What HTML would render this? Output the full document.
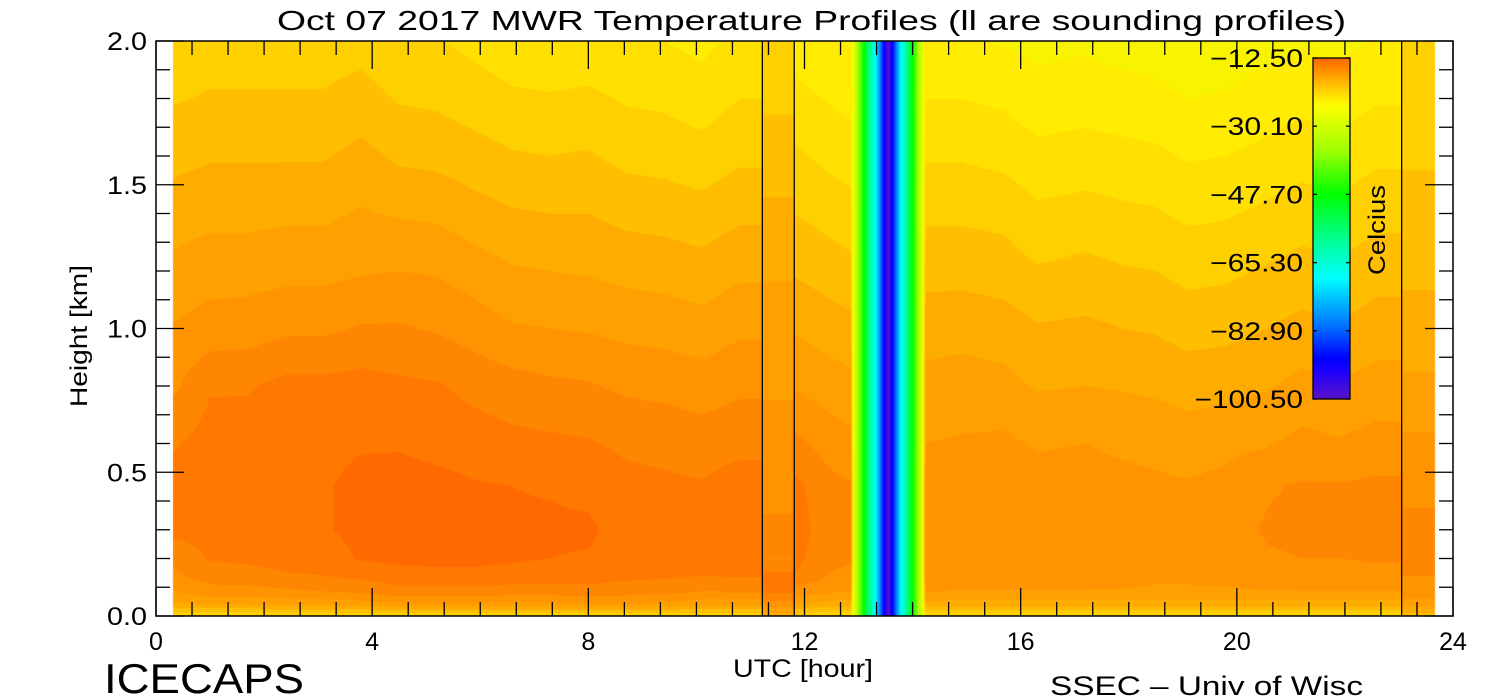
<!DOCTYPE html>
<html><head><meta charset="utf-8"><style>
html,body{margin:0;padding:0;background:#fff;width:1500px;height:700px;overflow:hidden}
#wrap{position:relative;width:1500px;height:700px}
canvas,svg{position:absolute;left:0;top:0}
text{font-family:"Liberation Sans",sans-serif;fill:#000}
</style></head><body>
<div id="wrap">
<canvas id="cv" width="1500" height="700"></canvas>
<svg id="sv" width="1500" height="700"></svg>
</div>
<script>
// heights (km) of the grid rows
const heights=[0,0.04,0.08,0.14,0.2,0.3,0.45,0.6,0.8,1.0,1.2,1.4,1.6,1.8,2.0];
// MWR segment 1 (before first sounding)
const times1=[0.33,1.0,1.7,2.4,3.1,3.8,4.5,5.2,5.9,6.6,7.3,8.0,8.7,9.4,10.1,10.8];
const temps1=[
[-21,-18.3,-17.1,-16.2,-15.7,-14.7,-14.6,-15.1,-16.2,-16.9,-17.7,-18.5,-19.3,-20.1,-20.7],
[-21,-18,-16.5,-15.5,-14.9,-14.6,-14.5,-14.6,-15.1,-16.6,-17.4,-18.3,-19.1,-19.9,-20.5],
[-21,-18,-16.5,-15.4,-14.8,-14.5,-14.5,-14.5,-15.1,-16.5,-17.4,-18.3,-19.1,-19.9,-20.5],
[-21,-17.8,-16.3,-15.1,-14.6,-14.4,-14.3,-14.4,-14.7,-16.2,-17.3,-18.2,-19.1,-19.9,-20.5],
[-21,-17.8,-16.1,-15,-14.5,-14.1,-14.1,-14.3,-14.7,-16.2,-17.3,-18.2,-19.1,-19.9,-20.5],
[-21,-17.5,-16,-14.7,-13.9,-13.7,-13.7,-14.1,-14.6,-15.9,-17.1,-17.9,-18.7,-19.6,-20.4],
[-21,-17.3,-15.5,-14.3,-13.8,-13.6,-13.6,-14.1,-14.8,-15.9,-17,-18.1,-19.2,-20.1,-20.8],
[-21,-17.3,-15.5,-14.2,-13.8,-13.6,-13.7,-14.3,-14.9,-16.1,-17.1,-18.2,-19.3,-20.2,-20.9],
[-21,-17.3,-15.5,-14.2,-13.8,-13.7,-13.9,-14.5,-15.3,-16.5,-17.5,-18.6,-19.6,-20.5,-21.3],
[-21,-17.3,-15.7,-14.3,-13.9,-13.8,-14,-14.7,-15.6,-16.9,-17.9,-18.9,-19.9,-20.8,-21.7],
[-21,-17.3,-15.7,-14.4,-14,-13.8,-14.1,-14.8,-15.8,-17,-18,-19,-20,-20.9,-21.8],
[-21,-17.1,-15.5,-14.5,-14.1,-13.8,-14.3,-14.9,-15.9,-17.1,-18.1,-19,-19.9,-20.8,-21.7],
[-21,-17.1,-15.7,-14.7,-14.5,-14.5,-14.7,-15.2,-16.2,-17.3,-18.3,-19.3,-20.3,-21.1,-21.9],
[-21,-17.3,-15.9,-14.8,-14.6,-14.5,-14.8,-15.3,-16.3,-17.4,-18.4,-19.4,-20.4,-21.2,-22],
[-21,-17.7,-16.1,-15,-14.8,-14.8,-14.9,-15.5,-16.5,-17.6,-18.6,-19.6,-20.6,-21.5,-22.3],
[-21,-17.7,-16.1,-14.9,-14.5,-14.4,-14.5,-15.3,-16.2,-17.2,-18.2,-19.2,-20.2,-21,-21.7]];
// sounding profiles
const soundTimes=[[11.22,11.81],[23.05,23.67]];
const soundTemps=[
[-18.5,-16.5,-15,-14.7,-16,-15.7,-16.5,-16.7,-17.1,-17.5,-18.1,-18.8,-19.5,-20.2,-20.8],
[-19.5,-17.5,-16.5,-16,-15.9,-15.9,-16.1,-16.8,-17.8,-18.6,-19.2,-19.7,-20.1,-20.6,-20.9]];
// MWR segment 2 (after first sounding, includes bad-data column near 13.55)
const times2=[11.81,12.5,12.86,12.93,13.12,13.32,13.55,13.78,13.98,14.16,14.24,14.9,15.7,16.3,17.2,17.9,18.5,19.1,19.8,20.55,21.2,21.9,22.6,23.05];
const stripeEdge=[-30,-30,-30,-30,-30,-30,-30,-30,-30,-30,-30,-30,-30,-30,-30];
const stripeMid=[-50,-50,-50,-50,-50,-50,-50,-50,-50,-50,-50,-50,-50,-50,-50];
const stripeInner=[-70,-70,-70,-70,-70,-70,-70,-70,-70,-70,-70,-70,-70,-70,-70];
const stripeCore=[-100.5,-100.5,-100.5,-100.5,-100.5,-100.5,-100.5,-100.5,-100.5,-100.5,-100.5,-100.5,-100.5,-100.5,-100.5];
const temps2=[
[-20.5,-18,-16.5,-15,-14.7,-14.6,-14.7,-15.7,-17.1,-18.1,-19.1,-20,-20.8,-21.7,-22.5],
[-21,-18.5,-17,-16.1,-15.7,-15.5,-15.7,-16.5,-17.5,-18.5,-19.5,-20.4,-21.3,-22.1,-22.9],
[-21,-18.6,-17.1,-16.3,-15.9,-15.7,-15.9,-16.7,-17.7,-18.7,-19.7,-20.6,-21.5,-22.3,-23.1],
stripeEdge,stripeMid,stripeInner,stripeCore,stripeInner,stripeMid,stripeEdge,
[-21,-18.5,-17,-16.6,-16.5,-16.5,-16.6,-17,-17.6,-18.5,-19.3,-20.2,-21.1,-22,-22.8],
[-21,-18.5,-17.1,-16.6,-16.5,-16.4,-16.5,-16.9,-17.5,-18.4,-19.3,-20.2,-21.1,-22,-22.9],
[-21,-18.5,-17.1,-16.6,-16.5,-16.4,-16.5,-16.8,-17.7,-18.5,-19.5,-20.3,-21.3,-22.2,-23.1],
[-21,-18.5,-17.1,-16.6,-16.5,-16.4,-16.6,-17.1,-18.1,-18.9,-19.9,-20.8,-21.7,-22.6,-23.3],
[-21,-18.5,-17.1,-16.6,-16.5,-16.4,-16.6,-17,-18,-18.8,-19.7,-20.6,-21.6,-22.4,-23.2],
[-21,-18.5,-17.1,-16.7,-16.5,-16.4,-16.7,-17.2,-18.1,-19,-19.9,-20.8,-21.7,-22.6,-23.4],
[-21,-18.5,-17.2,-16.8,-16.6,-16.5,-16.8,-17.3,-18.2,-19.1,-20,-20.9,-21.8,-22.7,-23.5],
[-21,-18.5,-17.2,-16.8,-16.6,-16.5,-16.9,-17.5,-18.4,-19.4,-20.3,-21.2,-22.1,-23,-23.7],
[-21,-18.5,-17.2,-16.7,-16.5,-16.4,-16.7,-17.3,-18.3,-19.3,-20.2,-21.1,-22,-22.9,-23.5],
[-21,-18.5,-17.1,-16.5,-16.1,-15.9,-16.1,-17.1,-18.1,-19,-19.9,-20.8,-21.7,-22.6,-23.3],
[-21,-18.5,-17.1,-16.4,-16,-15.8,-15.9,-16.7,-17.7,-18.7,-19.6,-20.5,-21.4,-22.3,-23.1],
[-21,-18.5,-17.1,-16.4,-16,-15.8,-15.9,-16.9,-17.9,-18.9,-19.8,-20.7,-21.6,-22.5,-23.3],
[-21,-18.5,-17.1,-16.3,-15.9,-15.7,-15.8,-16.6,-17.6,-18.5,-19.4,-20.3,-21.2,-22.1,-22.9],
[-21,-18.5,-17.1,-16.3,-15.9,-15.7,-15.8,-16.6,-17.6,-18.5,-19.4,-20.3,-21.2,-22.1,-22.9]];
const xTicks=[0,4,8,12,16,20,24];
const yTicks=[0,0.5,1.0,1.5,2.0];
const yTickLabels=["0.0","0.5","1.0","1.5","2.0"];
const cbTicks=[-12.5,-30.1,-47.7,-65.3,-82.9,-100.5];
const cbLabels=["\u221212.50","\u221230.10","\u221247.70","\u221265.30","\u221282.90","\u2212100.50"];

const X0=156,X1=1453,Y0=616,Y1=41;
const xs=t=>X0+(X1-X0)*t/24;
const ys=h=>Y0-(Y0-Y1)*h/2;
const CBT=58,CBB=399,CBMIN=-100.5,CBMAX=-12.5;
const cbY=v=>CBB-(CBB-CBT)*(v-CBMIN)/(CBMAX-CBMIN);

const bandG=[0x6a,0x78,0x86,0x94,0xa0,0xac,0xbe,0xd0,0xe0,0xec,0xf4];
const stops=[[0,[90,20,200]],[0.08,[30,0,255]],[0.12,[0,0,255]],[0.22,[0,120,255]],[0.355,[0,255,255]],[0.47,[0,255,144]],[0.6,[0,255,0]],[0.73,[160,255,0]],[0.86,[255,255,0]],[0.92,[255,192,0]],[1,[255,102,0]]];
function cmap(v){
  let f=(v-CBMIN)/(CBMAX-CBMIN); f=Math.max(0,Math.min(1,f));
  for(let i=1;i<stops.length;i++){ if(f<=stops[i][0]){ const a=stops[i-1],b=stops[i],u=(f-a[0])/(b[0]-a[0]);
    return [0,1,2].map(j=>Math.round(a[1][j]+(b[1][j]-a[1][j])*u)); } }
  return stops[stops.length-1][1];
}
function colorOf(T){
  if(T<-25.5) return cmap(T);
  let b=Math.floor(-T-13); b=Math.max(0,Math.min(10,b));
  return [b==10?248:255,bandG[b],0];
}
function profAt(col,h){
  for(let i=1;i<heights.length;i++){ if(h<=heights[i]){const u=(h-heights[i-1])/(heights[i]-heights[i-1]); return col[i-1]+(col[i]-col[i-1])*u;} }
  return col[col.length-1];
}
function fieldAt(times,temps,t,h){
  if(t<=times[0]) return profAt(temps[0],h);
  for(let i=1;i<times.length;i++){ if(t<=times[i]){const u=(t-times[i-1])/(times[i]-times[i-1]); return profAt(temps[i-1],h)*(1-u)+profAt(temps[i],h)*u;} }
  return profAt(temps[temps.length-1],h);
}
const cv=document.getElementById('cv'),ctx=cv.getContext('2d');
const xa=Math.round(xs(times1[0]))-1, xb=Math.round(xs(soundTimes[1][1]));
const img=ctx.createImageData(xb-xa,Y0-Y1);
for(let px=xa;px<xb;px++){
  const t=(px+0.5-X0)*24/(X1-X0);
  for(let py=Y1;py<Y0;py++){
    const h=(Y0-py-0.5)*2/(Y0-Y1);
    let T;
    if(t<soundTimes[0][0]) T=fieldAt(times1,temps1,t,h);
    else if(t<soundTimes[0][1]) T=profAt(soundTemps[0],h);
    else if(t<soundTimes[1][0]) T=fieldAt(times2,temps2,t,h);
    else T=profAt(soundTemps[1],h);
    const c=colorOf(T); const k=((py-Y1)*(xb-xa)+(px-xa))*4;
    img.data[k]=c[0];img.data[k+1]=c[1];img.data[k+2]=c[2];img.data[k+3]=255;
  }
}
ctx.putImageData(img,xa,Y1);
for(let py=CBT;py<CBB;py++){const v=CBMIN+(CBB-py-0.5)/(CBB-CBT)*(CBMAX-CBMIN);const c=cmap(v);ctx.fillStyle=`rgb(${c[0]},${c[1]},${c[2]})`;ctx.fillRect(1313,py,37,1);}

const NS='http://www.w3.org/2000/svg',sv=document.getElementById('sv');
function mk(tag,attrs,txt){const e=document.createElementNS(NS,tag);for(const k in attrs)e.setAttribute(k,attrs[k]);if(txt!==undefined)e.textContent=txt;sv.appendChild(e);return e;}
function line(x1,y1,x2,y2,name){const e=mk('line',{x1,y1,x2,y2,stroke:'#000','stroke-width':1.3});

return e;}
soundTimes.forEach((s,i)=>{
  line(xs(s[0]),Y1,xs(s[0]),Y0,'sounding-line');
  if(i==0) line(xs(s[1]),Y1,xs(s[1]),Y0,'sounding-line');
});
const fr=mk('rect',{x:X0,y:Y1,width:X1-X0,height:Y0-Y1,fill:'none',stroke:'#000','stroke-width':1.5});


for(let i=0;i<=36;i++){const t=i*24/36,x=xs(t),L=(i%6==0)?28:14;
  line(x,Y0,x,Y0-L,'x-tick');line(x,Y1,x,Y1+L,'x-tick');}
xTicks.forEach(t=>{const e=mk('text',{x:xs(t),y:650,'font-size':25,'text-anchor':'middle'},String(t));

});
for(let i=0;i<=20;i++){const h=i*0.1,y=ys(h),L=(i%5==0)?28:14;
  line(X0,y,X0+L,y,'y-tick');line(X1,y,X1-L,y,'y-tick');}
yTicks.forEach((h,i)=>{const e=mk('text',{x:147,y:ys(h)+9,'font-size':25,'text-anchor':'end',textLength:40,lengthAdjust:'spacingAndGlyphs'},yTickLabels[i]);

});
const cb=mk('rect',{x:1313,y:CBT,width:37,height:CBB-CBT,fill:'none',stroke:'#000','stroke-width':1.3});


cbTicks.forEach((v,i)=>{const y=cbY(v);line(1313,y,1317,y,'colorbar-tick');line(1350,y,1346,y,'colorbar-tick');
  const w=cbLabels[i].length*15.5;
  const e=mk('text',{x:1303,y:y+9,'font-size':25,'text-anchor':'end',textLength:w,lengthAdjust:'spacingAndGlyphs'},cbLabels[i]);
  
  });
</script>
<svg width="1500" height="700" style="position:absolute;left:0;top:0">
<text x="277" y="30" font-size="28" textLength="1069" lengthAdjust="spacingAndGlyphs">Oct 07 2017 MWR Temperature Profiles (ll are sounding profiles)</text>
<text x="733" y="677" font-size="25" textLength="140" lengthAdjust="spacingAndGlyphs">UTC [hour]</text>
<text transform="translate(87,407) rotate(-90)" font-size="24" textLength="142" lengthAdjust="spacingAndGlyphs">Height [km]</text>
<text x="1385" y="275" transform="rotate(-90 1385 275)" font-size="24" textLength="90" lengthAdjust="spacingAndGlyphs">Celcius</text>
<text x="104" y="693" font-size="42" textLength="200" lengthAdjust="spacingAndGlyphs">ICECAPS</text>
<text x="1050" y="695" font-size="27" textLength="313" lengthAdjust="spacingAndGlyphs">SSEC – Univ of Wisc</text>
</svg>
</body></html>
